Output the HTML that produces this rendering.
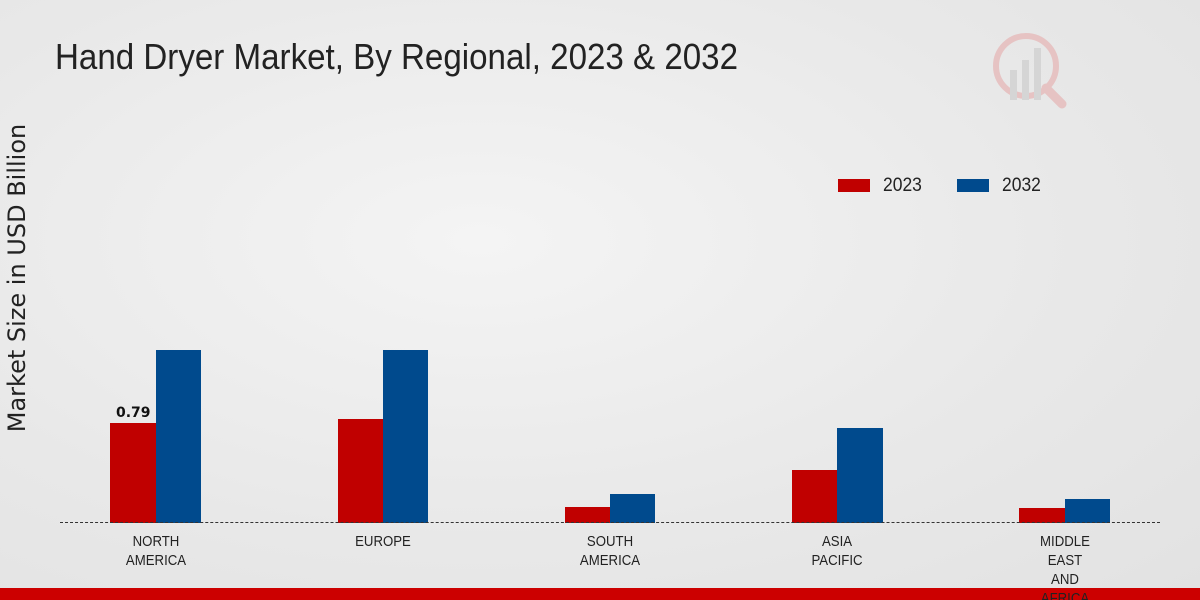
<!DOCTYPE html>
<html><head><meta charset="utf-8"><style>
html,body{margin:0;width:1200px;height:600px;overflow:hidden}
body{background:radial-gradient(ellipse at 40% 40%,#f4f4f4 0%,#e8e8e8 60%,#e2e2e2 100%);font-family:"Liberation Sans",sans-serif;position:relative}
.t{position:absolute;left:55px;top:36px;font-size:36px;color:#222;white-space:nowrap;transform:scaleX(0.92);transform-origin:left top}
.yl{position:absolute;left:-163px;top:264px;width:360px;text-align:center;transform:rotate(-90deg);font-family:"DejaVu Sans",sans-serif;font-size:24px;color:#222}
.b{position:absolute}
.r{background:#c00000}.u{background:#004a8d}
.x{position:absolute;top:532px;width:120px;text-align:center;font-size:15px;line-height:19px;color:#222;transform:scaleX(0.88);z-index:2}
.lg{position:absolute;top:175px;font-size:19px;color:#222;transform:scaleX(0.92);transform-origin:left top}
</style></head><body>
<div class="t">Hand Dryer Market, By Regional, 2023 &amp; 2032</div>
<div class="yl">Market Size in USD Billion</div>
<svg style="position:absolute;left:990px;top:30px" width="85" height="85"><circle cx="36" cy="36" r="30" fill="none" stroke="#e6c3c3" stroke-width="6"/><line x1="56" y1="58" x2="72" y2="74" stroke="#e6c3c3" stroke-width="9" stroke-linecap="round"/><rect x="20" y="40" width="7" height="30" fill="#d5d5d5"/><rect x="32" y="30" width="7" height="40" fill="#d5d5d5"/><rect x="44" y="18" width="7" height="52" fill="#d5d5d5"/></svg>
<div class="b r" style="left:838px;top:179px;width:32px;height:13px"></div><div class="lg" style="left:883px">2023</div>
<div class="b u" style="left:957px;top:179px;width:32px;height:13px"></div><div class="lg" style="left:1002px">2032</div>
<div class="b r" style="left:110px;top:423px;width:46px;height:100px"></div><div class="b u" style="left:156px;top:350px;width:45px;height:173px"></div>
<div class="b r" style="left:338px;top:419px;width:45px;height:104px"></div><div class="b u" style="left:383px;top:350px;width:45px;height:173px"></div>
<div class="b r" style="left:565px;top:507px;width:45px;height:16px"></div><div class="b u" style="left:610px;top:494px;width:45px;height:29px"></div>
<div class="b r" style="left:792px;top:470px;width:45px;height:53px"></div><div class="b u" style="left:837px;top:428px;width:46px;height:95px"></div>
<div class="b r" style="left:1019px;top:508px;width:46px;height:15px"></div><div class="b u" style="left:1065px;top:499px;width:45px;height:24px"></div>
<div style="position:absolute;left:116px;top:405px;font-family:'DejaVu Sans',sans-serif;font-weight:bold;font-size:14px;color:#111">0.79</div>
<div style="position:absolute;left:60px;top:522px;width:1100px;border-top:1px dashed #333"></div>
<div style="position:absolute;left:0;top:588px;width:1200px;height:12px;background:#cc0000"></div>
<div class="x" style="left:96px">NORTH<br>AMERICA</div>
<div class="x" style="left:323px">EUROPE</div>
<div class="x" style="left:550px">SOUTH<br>AMERICA</div>
<div class="x" style="left:777px">ASIA<br>PACIFIC</div>
<div class="x" style="left:1005px">MIDDLE<br>EAST<br>AND<br>AFRICA</div>
</body></html>
